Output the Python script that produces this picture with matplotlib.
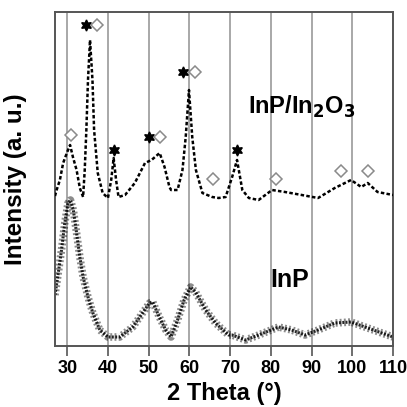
import matplotlib
matplotlib.use('Agg')
import matplotlib.pyplot as plt

plt.rcParams['font.family'] = ['Liberation Sans', 'DejaVu Sans']
plt.rcParams['font.weight'] = 'bold'
plt.rcParams['mathtext.default'] = 'bf'

# InP/In2O3 pattern (2 theta, intensity a.u.)
top_x = [27.0, 27.4, 28.2, 29.0, 30.0, 30.7, 31.4, 32.3, 33.1, 33.9, 34.3, 34.7,
         35.1, 35.6, 36.2, 36.6, 37.5, 38.7, 40.0, 40.8, 41.4, 42.0, 42.6, 44.2,
         46.6, 49.1, 50.7, 52.7, 53.9, 55.1, 55.5, 57.1, 58.3, 59.1, 59.9, 60.7,
         61.6, 63.2, 65.6, 67.2, 68.9, 70.5, 71.7, 73.0, 74.6, 77.0, 80.3, 83.5,
         87.6, 91.6, 95.7, 99.7, 102.2, 103.8, 106.2, 110.0]
top_y = [150, 156, 166, 183, 194, 201, 189, 176, 158, 149, 176, 216,
         266, 306, 266, 216, 173, 153, 148, 166, 188, 166, 149, 151,
         163, 183, 186, 193, 179, 159, 156, 156, 176, 209, 256, 209,
         176, 153, 149, 148, 149, 169, 186, 156, 148, 146, 156, 154,
         151, 148, 158, 166, 159, 163, 154, 151]

# InP pattern
bot_x = [27.0, 27.8, 28.6, 29.4, 30.2, 30.8, 31.5, 32.3, 33.1, 33.9, 35.1, 36.3,
         38.0, 40.0, 42.9, 46.1, 48.5, 50.2, 51.0, 52.6, 54.2, 55.5, 57.1, 58.7,
         60.3, 61.5, 64.0, 66.4, 69.6, 70.5, 73.8, 77.0, 81.9, 85.1, 88.4, 91.6,
         95.7, 99.7, 103.8, 110.0]
bot_y = [51, 73, 96, 123, 143, 146, 136, 113, 89, 69, 49, 33,
         16, 9, 9, 19, 33, 43, 44, 29, 16, 9, 26, 46,
         59, 54, 36, 23, 11, 11, 6, 11, 19, 16, 11, 16,
         23, 24, 18, 9]

# phase markers
star_x = [34.6, 41.5, 50.2, 58.5, 71.6]
star_y = [321, 196, 209, 274, 196]
diam_x = [37.3, 30.9, 52.7, 61.4, 65.9, 81.2, 97.2, 103.8]
diam_y = [321, 211, 209, 274, 167, 167, 175, 175]

xticks = [30, 40, 50, 60, 70, 80, 90, 100, 110]

fig = plt.figure(figsize=(4.07, 4.07), dpi=100)
ax = fig.add_axes([55 / 407, 61 / 407, 338 / 407, 334 / 407])

for t in xticks:
    ax.axvline(t, color='#9a9a9a', lw=1.2, zorder=0)

# speckled band for the noisy InP trace
ax.plot(bot_x, bot_y, color='black', lw=5.5, alpha=0.45,
        dashes=(0.25, 0.3), zorder=2)
ax.plot(bot_x, bot_y, color='black', lw=2.2, alpha=0.85,
        dashes=(0.6, 0.5), zorder=2)
ax.plot(top_x, top_y, color='black', lw=1.8, dashes=(1.4, 0.9), zorder=3)

ax.plot(star_x, star_y, ls='none', marker=(6, 1, 0), ms=8,
        color='black', zorder=4)
ax.plot(diam_x, diam_y, ls='none', marker='D', ms=6.5, mfc='white',
        mec='#8a8a8a', mew=1.1, zorder=4)

ax.text(87.6, 239, 'InP/In$_2$O$_3$', fontsize=17,
        fontweight='bold', ha='center', va='center')
ax.text(84.6, 66, 'InP', fontsize=18, fontweight='bold',
        ha='center', va='center')

ax.set_xlim(27, 110)
ax.set_ylim(0, 334)
ax.set_xticks(xticks)
ax.set_yticks([])
ax.tick_params(axis='x', direction='out', length=7, width=1.2,
               color='#555555', labelsize=13, pad=3)
for lab in ax.get_xticklabels():
    lab.set_fontweight('bold')
for s in ax.spines.values():
    s.set_color('#555555')
    s.set_linewidth(1.4)

ax.set_xlabel('2 Theta (°)', fontsize=17, fontweight='bold', labelpad=4)
ax.set_ylabel('Intensity (a. u.)', fontsize=17.5, fontweight='bold', labelpad=20)

fig.savefig('out.png', dpi=100)
